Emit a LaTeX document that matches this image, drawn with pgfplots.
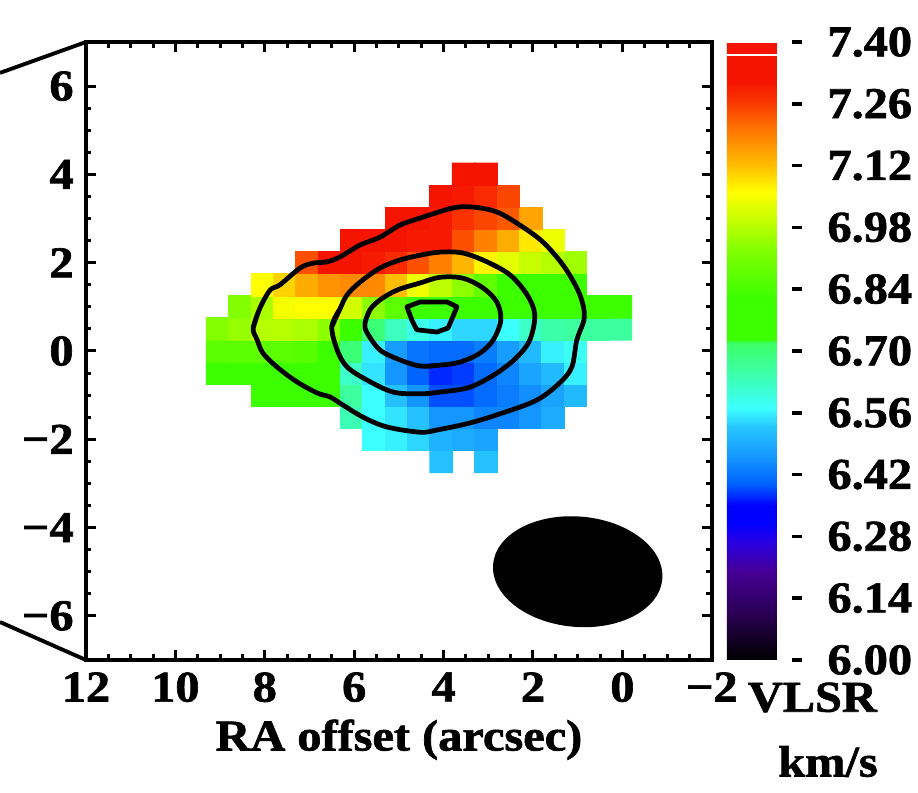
\documentclass[border=0pt]{standalone}
\usepackage{fontspec}
\setmainfont{Liberation Serif}[UprightFont={* Bold}, FakeStretch=1.1, FakeBold=1.5]
\usepackage{pgfplots}
\pgfplotsset{compat=1.18}
\newcommand\lf{\fontsize{12.5}{15}\selectfont}
\begin{document}
\begin{tikzpicture}[font=\lf]
\begin{axis}[
  x=4.47mm, y=4.414mm, x dir=reverse,
  xmin=-2, xmax=12, ymin=-7, ymax=7,
  clip=false, axis on top,
  xtick={-2,0,2,4,6,8,10,12}, xticklabels={−2,0,2,4,6,8,10,12},
  ytick={-6,-4,-2,0,2,4,6}, yticklabels={−6,−4,−2,0,2,4,6},
  minor x tick num=3, minor y tick num=3,
  tick align=inside, major tick length=1mm, minor tick length=0.55mm,
  every tick/.style={black, line width=0.3mm},
  axis line style={line width=0.42mm},
  tick label style={font=\lf},
  xlabel={RA offset (arcsec)},
  xlabel style={at={(axis description cs:0.5,-0.129)}, anchor=center, font=\lf},
  colormap={vlsr}{rgb255(0pt)=(0,0,0) rgb255(20pt)=(40,0,80) rgb255(40pt)=(70,0,150)
    rgb255(54pt)=(40,0,230) rgb255(62pt)=(0,0,255) rgb255(70pt)=(0,0,255)
    rgb255(80pt)=(0,100,255) rgb255(92pt)=(20,150,255) rgb255(106pt)=(40,200,255)
    rgb255(114pt)=(60,255,255) rgb255(130pt)=(60,255,170) rgb255(144pt)=(60,255,100)
    rgb255(145pt)=(60,255,0) rgb255(164pt)=(60,255,0) rgb255(186pt)=(130,255,0)
    rgb255(200pt)=(200,255,0) rgb255(212pt)=(255,255,0) rgb255(224pt)=(255,190,0)
    rgb255(240pt)=(255,120,0) rgb255(254pt)=(250,50,0) rgb255(262pt)=(245,20,0)
    rgb255(280pt)=(245,20,0)},
  point meta min=6, point meta max=7.4,
  colorbar,
  colorbar style={
    at={(parent axis.north east)}, anchor=north west, xshift=-1.5mm,
    width=6.5mm, height=61.796mm, scale only axis,
    ymin=6, ymax=7.4,
    ytick={6.00,6.14,6.28,6.42,6.56,6.70,6.84,6.98,7.12,7.26,7.40},
    yticklabels={6.00,6.14,6.28,6.42,6.56,6.70,6.84,6.98,7.12,7.26,7.40},
    ytick pos=right, yticklabel pos=right,
    tick align=outside, major tick length=1mm,
    every tick/.style={black, line width=0.35mm},
    axis line style={draw=none},
    yticklabel style={font=\lf, inner sep=0pt, xshift=2.5mm},
    extra description/.code={\fill[white] (0,0.977) rectangle (1,0.981);},
  },
]
\addplot[matrix plot*, point meta=explicit, mesh/cols=19, unbounded coords=jump] table[meta=v] {
x y v
9.05 -2.5 nan
8.55 -2.5 nan
8.05 -2.5 nan
7.55 -2.5 nan
7.05 -2.5 nan
6.55 -2.5 nan
6.05 -2.5 nan
5.55 -2.5 nan
5.05 -2.5 nan
4.55 -2.5 nan
4.05 -2.5 6.52
3.55 -2.5 nan
3.05 -2.5 6.52
2.55 -2.5 nan
2.05 -2.5 nan
1.55 -2.5 nan
1.05 -2.5 nan
0.55 -2.5 nan
0.05 -2.5 nan

9.05 -2.0 nan
8.55 -2.0 nan
8.05 -2.0 nan
7.55 -2.0 nan
7.05 -2.0 nan
6.55 -2.0 nan
6.05 -2.0 nan
5.55 -2.0 6.57
5.05 -2.0 6.56
4.55 -2.0 6.54
4.05 -2.0 6.50
3.55 -2.0 6.49
3.05 -2.0 6.48
2.55 -2.0 nan
2.05 -2.0 nan
1.55 -2.0 nan
1.05 -2.0 nan
0.55 -2.0 nan
0.05 -2.0 nan

9.05 -1.5 nan
8.55 -1.5 nan
8.05 -1.5 nan
7.55 -1.5 nan
7.05 -1.5 nan
6.55 -1.5 nan
6.05 -1.5 6.64
5.55 -1.5 6.57
5.05 -1.5 6.55
4.55 -1.5 6.52
4.05 -1.5 6.46
3.55 -1.5 6.46
3.05 -1.5 6.44
2.55 -1.5 6.44
2.05 -1.5 6.46
1.55 -1.5 6.49
1.05 -1.5 nan
0.55 -1.5 nan
0.05 -1.5 nan

9.05 -1.0 nan
8.55 -1.0 nan
8.05 -1.0 6.80
7.55 -1.0 6.80
7.05 -1.0 6.80
6.55 -1.0 6.73
6.05 -1.0 6.66
5.55 -1.0 6.57
5.05 -1.0 6.52
4.55 -1.0 6.46
4.05 -1.0 6.39
3.55 -1.0 6.39
3.05 -1.0 6.41
2.55 -1.0 6.43
2.05 -1.0 6.45
1.55 -1.0 6.48
1.05 -1.0 6.51
0.55 -1.0 nan
0.05 -1.0 nan

9.05 -0.5 6.82
8.55 -0.5 6.82
8.05 -0.5 6.82
7.55 -0.5 6.82
7.05 -0.5 6.82
6.55 -0.5 6.80
6.05 -0.5 6.62
5.55 -0.5 6.55
5.05 -0.5 6.46
4.55 -0.5 6.40
4.05 -0.5 6.37
3.55 -0.5 6.38
3.05 -0.5 6.41
2.55 -0.5 6.44
2.05 -0.5 6.48
1.55 -0.5 6.51
1.05 -0.5 6.56
0.55 -0.5 nan
0.05 -0.5 nan

9.05 0.0 6.87
8.55 0.0 6.87
8.05 0.0 6.87
7.55 0.0 6.87
7.05 0.0 6.86
6.55 0.0 6.80
6.05 0.0 6.70
5.55 0.0 6.56
5.05 0.0 6.47
4.55 0.0 6.42
4.05 0.0 6.41
3.55 0.0 6.41
3.05 0.0 6.43
2.55 0.0 6.47
2.05 0.0 6.51
1.55 0.0 6.56
1.05 0.0 6.58
0.55 0.0 nan
0.05 0.0 nan

9.05 0.5 6.93
8.55 0.5 6.95
8.05 0.5 6.98
7.55 0.5 6.98
7.05 0.5 6.97
6.55 0.5 6.94
6.05 0.5 6.80
5.55 0.5 6.70
5.05 0.5 6.63
4.55 0.5 6.59
4.05 0.5 6.56
3.55 0.5 6.54
3.05 0.5 6.54
2.55 0.5 6.57
2.05 0.5 6.62
1.55 0.5 6.65
1.05 0.5 6.66
0.55 0.5 6.66
0.05 0.5 6.66

9.05 1.0 nan
8.55 1.0 6.93
8.05 1.0 6.97
7.55 1.0 7.05
7.05 1.0 7.06
6.55 1.0 7.06
6.05 1.0 7.01
5.55 1.0 6.94
5.05 1.0 6.87
4.55 1.0 6.82
4.05 1.0 6.80
3.55 1.0 6.75
3.05 1.0 6.79
2.55 1.0 6.80
2.05 1.0 6.80
1.55 1.0 6.80
1.05 1.0 6.80
0.55 1.0 6.80
0.05 1.0 6.80

9.05 1.5 nan
8.55 1.5 nan
8.05 1.5 7.06
7.55 1.5 7.10
7.05 1.5 7.14
6.55 1.5 7.17
6.05 1.5 7.18
5.55 1.5 7.18
5.05 1.5 7.12
4.55 1.5 7.04
4.05 1.5 6.99
3.55 1.5 6.94
3.05 1.5 6.88
2.55 1.5 6.81
2.05 1.5 6.80
1.55 1.5 6.80
1.05 1.5 6.80
0.55 1.5 nan
0.05 1.5 nan

9.05 2.0 nan
8.55 2.0 nan
8.05 2.0 nan
7.55 2.0 nan
7.05 2.0 7.24
6.55 2.0 7.31
6.05 2.0 7.31
5.55 2.0 7.30
5.05 2.0 7.28
4.55 2.0 7.24
4.05 2.0 7.19
3.55 2.0 7.13
3.05 2.0 7.07
2.55 2.0 7.03
2.05 2.0 7.00
1.55 2.0 6.98
1.05 2.0 6.96
0.55 2.0 nan
0.05 2.0 nan

9.05 2.5 nan
8.55 2.5 nan
8.05 2.5 nan
7.55 2.5 nan
7.05 2.5 nan
6.55 2.5 nan
6.05 2.5 7.32
5.55 2.5 7.31
5.05 2.5 7.31
4.55 2.5 7.30
4.05 2.5 7.30
3.55 2.5 7.24
3.05 2.5 7.19
2.55 2.5 7.14
2.05 2.5 7.08
1.55 2.5 7.04
1.05 2.5 nan
0.55 2.5 nan
0.05 2.5 nan

9.05 3.0 nan
8.55 3.0 nan
8.05 3.0 nan
7.55 3.0 nan
7.05 3.0 nan
6.55 3.0 nan
6.05 3.0 nan
5.55 3.0 nan
5.05 3.0 7.32
4.55 3.0 7.31
4.05 3.0 7.30
3.55 3.0 7.27
3.05 3.0 7.25
2.55 3.0 7.23
2.05 3.0 7.15
1.55 3.0 nan
1.05 3.0 nan
0.55 3.0 nan
0.05 3.0 nan

9.05 3.5 nan
8.55 3.5 nan
8.05 3.5 nan
7.55 3.5 nan
7.05 3.5 nan
6.55 3.5 nan
6.05 3.5 nan
5.55 3.5 nan
5.05 3.5 nan
4.55 3.5 nan
4.05 3.5 7.31
3.55 3.5 7.30
3.05 3.5 7.28
2.55 3.5 7.25
2.05 3.5 nan
1.55 3.5 nan
1.05 3.5 nan
0.55 3.5 nan
0.05 3.5 nan

9.05 4.0 nan
8.55 4.0 nan
8.05 4.0 nan
7.55 4.0 nan
7.05 4.0 nan
6.55 4.0 nan
6.05 4.0 nan
5.55 4.0 nan
5.05 4.0 nan
4.55 4.0 nan
4.05 4.0 nan
3.55 4.0 7.31
3.05 4.0 7.31
2.55 4.0 nan
2.05 4.0 nan
1.55 4.0 nan
1.05 4.0 nan
0.55 4.0 nan
0.05 4.0 nan
};
% contours
\addplot[black, line width=1.35pt, smooth, tension=0.55] coordinates {
(8.26,0.52) (8.11,0.97) (7.88,1.38) (7.66,1.50) (7.21,1.88) (6.92,1.99) (6.61,2.02) (6.32,2.13) (5.87,2.40) (5.42,2.58) (4.98,2.85) (4.53,3.01) (3.79,3.24) (3.34,3.26) (2.81,3.15) (2.29,2.85) (1.78,2.47) (1.33,1.95) (1.02,1.43) (0.88,1.04) (0.86,0.70) (1.02,0.25) (1.13,-0.36) (1.40,-0.72) (1.91,-1.11) (2.67,-1.40) (3.41,-1.63) (4.15,-1.79) (4.53,-1.84) (5.27,-1.72) (5.80,-1.50) (6.32,-1.18) (6.54,-1.04) (6.83,-0.95) (7.28,-0.70) (7.73,-0.36) (8.04,-0.05) (8.17,0.25) (8.26,0.52) (8.11,0.97)};
\addplot[black, line width=1.35pt, smooth, tension=0.55] coordinates {
(6.50,0.55) (6.32,0.95) (6.16,1.27) (5.87,1.56) (5.42,1.88) (4.98,2.06) (4.53,2.17) (4.08,2.24) (3.57,2.22) (3.03,2.02) (2.51,1.72) (2.13,1.27) (1.96,0.82) (2.07,0.25) (2.36,-0.14) (2.81,-0.50) (3.41,-0.82) (4.08,-0.93) (4.53,-0.97) (5.13,-0.93) (5.71,-0.66) (6.16,-0.36) (6.38,0.02) (6.50,0.55) (6.32,0.95)};
\addplot[black, line width=1.35pt, smooth, tension=0.55] coordinates {
(5.76,0.63) (5.65,0.93) (5.42,1.16) (5.04,1.38) (4.53,1.54) (4.08,1.67) (3.57,1.65) (3.12,1.43) (2.81,1.11) (2.72,0.70) (2.89,0.25) (3.19,-0.05) (3.63,-0.25) (4.08,-0.32) (4.53,-0.34) (4.98,-0.20) (5.42,0.02) (5.71,0.41) (5.76,0.63) (5.65,0.93)};
\addplot[black, line width=1.35pt, line join=round] coordinates {
(4.82,1.00) (4.53,1.11) (3.92,1.11) (3.70,1.00) (3.90,0.52) (4.15,0.43) (4.60,0.48) (4.71,0.70) (4.82,1.00) (4.53,1.11)};
% beam
\fill[black, rotate around={-5:(axis cs:1.0,-5.0)}] (axis cs:1.0,-5.0) ellipse [x radius=1.90, y radius=1.25];
% zoom lines from neighbouring panel
\draw[line width=1.1pt] (axis cs:13.924,6.30) -- (axis cs:12,7);
\draw[line width=1.1pt] (axis cs:13.924,-6.14) -- (axis cs:12,-7);
\node[font=\lf, inner sep=0pt] at (axis cs:-4.25,-7.85) {VLSR};
\node[font=\lf, inner sep=0pt] at (axis cs:-4.60,-9.30) {km/s};
\coordinate (bbA) at (axis cs:13.924,7.952);
\coordinate (bbB) at (axis cs:-6.613,-9.991);
\end{axis}
\pgfresetboundingbox
\path[use as bounding box] (bbA) rectangle (bbB);
\end{tikzpicture}
\end{document}
